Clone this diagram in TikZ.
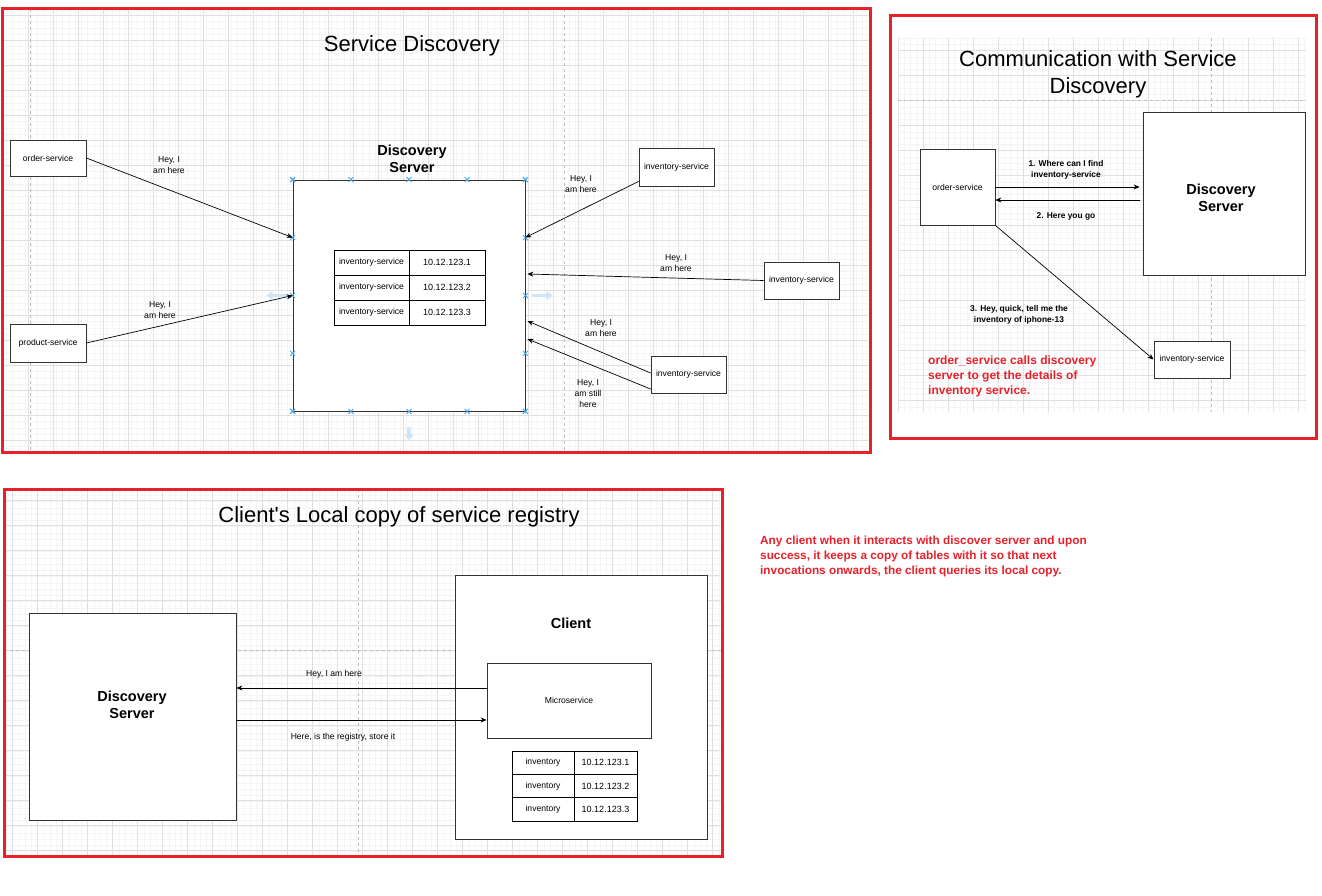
\documentclass[tikz,border=0pt]{standalone}
\usepackage{fontspec}
\setmainfont{Liberation Sans}
\newfontfamily\headFont{Liberation Sans}
\usetikzlibrary{calc}
\usetikzlibrary{positioning}
\usetikzlibrary{arrows.meta}
\usetikzlibrary{shapes.misc}
\definecolor{panelRed}{HTML}{E8202A}
\definecolor{handleBlue}{HTML}{4DA6E8}
\definecolor{hoverBlue}{HTML}{CFE6F8}
\newcommand{\edgeColor}{black!80}
\newcommand{\gridMinor}{black!4}
\newcommand{\gridMajor}{black!12}
\tikzset{panel/.style = {draw=panelRed, line width=3pt}}
\tikzset{svcbox/.style = {draw=\edgeColor, fill=white, line width=0.8pt, inner sep=0pt, font=\fontsize{8.6}{11}\selectfont}}
\tikzset{bigbox/.style = {draw=\edgeColor, fill=white, line width=0.8pt, inner sep=0pt}}
\tikzset{cell/.style = {draw=black, fill=white, line width=0.7pt, inner sep=0pt, font=\fontsize{8.6}{11}\selectfont}}
\tikzset{msg/.style = {align=center, inner sep=1pt, font=\fontsize{8.6}{11}\selectfont}}
\tikzset{boldmsg/.style = {align=center, inner sep=1pt, font=\bfseries\fontsize{8.4}{11}\selectfont}}
\tikzset{srvtitle/.style = {align=center, font=\bfseries\fontsize{14.5}{17}\selectfont}}
\tikzset{heading/.style = {align=center, font=\headFont\fontsize{22}{27}\selectfont}}
\tikzset{note/.style = {align=left, text=panelRed, inner sep=0pt, font=\bfseries\fontsize{12}{15}\selectfont}}
\tikzset{arr/.style = {black, line width=0.7pt, -{Stealth[length=6pt, width=5pt]}}}
\tikzset{handle/.style = {cross out, draw=handleBlue, line width=0.9pt, minimum size=4pt, inner sep=0pt}}
\tikzset{hoverarr/.style = {hoverBlue, line width=3.5pt, -{Triangle[length=6pt, width=9pt]}}}
\tikzset{pagebreak/.style = {black!25, dashed, line width=0.6pt}}

\begin{document}
\begin{tikzpicture}[x=1pt, y=-1pt]
\useasboundingbox (0,0) rectangle (1322,896);

% background grids of the three sheets
\begin{scope}
  \clip (3.5,10.5) rectangle (868.5,450.5);
  \foreach \gx in {0,6.25,...,870} \draw[\gridMinor, line width=0.4pt] (\gx,9) -- (\gx,452);
  \foreach \gy in {9,15.25,...,452} \draw[\gridMinor, line width=0.4pt] (2,\gy) -- (870,\gy);
  \foreach \gx in {3,28,...,870} \draw[\gridMajor, line width=0.5pt] (\gx,9) -- (\gx,452);
  \foreach \gy in {15,40,...,452} \draw[\gridMajor, line width=0.5pt] (2,\gy) -- (870,\gy);
  \draw[pagebreak] (30,9) -- (30,452);
  \draw[pagebreak] (564,9) -- (564,452);
\end{scope}
\begin{scope}
  \clip (898,38) rectangle (1306,412);
  \foreach \gx in {898,904.25,...,1306} \draw[\gridMinor, line width=0.4pt] (\gx,38) -- (\gx,412);
  \foreach \gy in {38,44.25,...,412} \draw[\gridMinor, line width=0.4pt] (898,\gy) -- (1306,\gy);
  \foreach \gx in {898,923,...,1306} \draw[\gridMajor, line width=0.5pt] (\gx,38) -- (\gx,412);
  \foreach \gy in {50,75,...,412} \draw[\gridMajor, line width=0.5pt] (898,\gy) -- (1306,\gy);
  \draw[pagebreak] (1211,38) -- (1211,412);
  \draw[pagebreak] (898,100) -- (1306,100);
\end{scope}
\begin{scope}
  \clip (5.5,490.5) rectangle (720.5,854.5);
  \foreach \gx in {0,6.25,...,722} \draw[\gridMinor, line width=0.4pt] (\gx,489) -- (\gx,856);
  \foreach \gy in {489,495.25,...,856} \draw[\gridMinor, line width=0.4pt] (4,\gy) -- (722,\gy);
  \foreach \gx in {12,37,...,722} \draw[\gridMajor, line width=0.5pt] (\gx,489) -- (\gx,856);
  \foreach \gy in {500,525,...,856} \draw[\gridMajor, line width=0.5pt] (4,\gy) -- (722,\gy);
  \draw[pagebreak] (358,489) -- (358,856);
  \draw[pagebreak] (4,650) -- (722,650);
\end{scope}

% red frames
\draw[panel] (2,9) rectangle (870,452);
\draw[panel] (890,16) rectangle (1316,438);
\draw[panel] (4,489) rectangle (722,856);

% ---------- Service Discovery ----------
\node[heading] (sdTitle) at (412,46) {Service Discovery};

\node[svcbox, minimum width=76, minimum height=36] (ordSvc) at (48,158) {order-service};
\node[svcbox, minimum width=76, minimum height=38] (prodSvc) at (48,343) {product-service};
\node[bigbox, minimum width=232, minimum height=231] (discSrv) at (409,295.5) {};
\node[srvtitle] (discTitle) at (412,159) {Discovery\\Server};

\foreach \i in {1,2,3} {
  \node[cell, minimum width=75, minimum height=25] (regKey\i) at (371.5,237.5+25*\i) {inventory-service};
  \node[cell, minimum width=76, minimum height=25, font=\fontsize{9}{11}\selectfont] (regVal\i) at (447,237.5+25*\i) {10.12.123.\i};
}

% selection handles
\foreach \t in {0,0.25,0.5,0.75,1} {
  \node[handle] at ($(discSrv.north west)!\t!(discSrv.north east)$) {};
  \node[handle] at ($(discSrv.south west)!\t!(discSrv.south east)$) {};
  \node[handle] at ($(discSrv.north west)!\t!(discSrv.south west)$) {};
  \node[handle] at ($(discSrv.north east)!\t!(discSrv.south east)$) {};
}
\draw[hoverarr] ($(discSrv.west)+(-6,0)$) -- ++(-20,0);
\draw[hoverarr] ($(discSrv.east)+(7,0)$) -- ++(20,0);
\draw[hoverarr] ($(discSrv.south)+(0,16)$) -- ++(0,13);

\node[svcbox, minimum width=75, minimum height=38] (invA) at (676.5,167) {inventory-service};
\node[svcbox, minimum width=75, minimum height=37] (invB) at (801.5,280.5) {inventory-service};
\node[svcbox, minimum width=75, minimum height=37] (invC) at (688.5,374.5) {inventory-service};

\draw[arr] (ordSvc.east) -- ($(discSrv.north west)!.25!(discSrv.south west)$);
\draw[arr] (prodSvc.east) -- (discSrv.west);
\draw[arr] ($(invA.south west)+(0,-5)$) -- ($(discSrv.north east)!.25!(discSrv.south east)$);
\draw[arr] (invB.west) -- ($(discSrv.east)+(2,-21.5)$);
\draw[arr] ($(invC.west)+(0,-1.5)$) -- ($(discSrv.east)+(2,25.5)$);
\draw[arr] ($(invC.west)+(0,14.5)$) -- ($(discSrv.east)+(2,43.5)$);

\node[msg] (hiOrd) at (169,165) {Hey, I\\am here};
\node[msg] (hiProd) at (160,310) {Hey, I\\am here};
\node[msg] (hiInvA) at (581,184) {Hey, I\\am here};
\node[msg] (hiInvB) at (676,263) {Hey, I\\am here};
\node[msg] (hiInvC) at (601,328) {Hey, I\\am here};
\node[msg] (stillInvC) at (588,394) {Hey, I\\am still\\here};

% ---------- Communication with Service Discovery ----------
\node[heading] (commTitle) at (1098,74.5) {Communication with Service\\Discovery};

\node[svcbox, minimum width=75, minimum height=76] (ordSvc2) at (957.5,187) {order-service};
\node[bigbox, minimum width=162, minimum height=163] (discSrv2) at (1224,193.5) {};
\node[srvtitle] (discTitle2) at (1221,198) {Discovery\\Server};
\node[svcbox, minimum width=76, minimum height=37] (invSvc2) at (1192,359.5) {inventory-service};

\draw[arr] (ordSvc2.east) -- ($(discSrv2.west)+(-3,-6.5)$);
\draw[arr] ($(discSrv2.west)+(-3,6.5)$) -- ($(ordSvc2.east)+(0,13)$);
\draw[arr] (ordSvc2.south east) -- (invSvc2.west);

\node[boldmsg] (askMsg) at (1066,170) {1. Where can I find\\inventory-service};
\node[boldmsg] (replyMsg) at (1066,216) {2. Here you go};
\node[boldmsg] (queryMsg) at (1019,315) {3. Hey, quick, tell me the\\inventory of iphone-13};

\node[note, anchor=north west] (commNote) at (928,356) {order\_service calls discovery\\server to get the details of\\inventory service.};

% ---------- Client's Local copy ----------
\node[heading] (localTitle) at (399,517) {Client's Local copy of service registry};

\node[bigbox, minimum width=207, minimum height=207] (discSrv3) at (132.5,716.5) {};
\node[srvtitle] (discTitle3) at (132,705) {Discovery\\Server};
\node[bigbox, minimum width=252, minimum height=264] (clientBox) at (581,707) {};
\node[srvtitle] (clientTitle) at (571,623) {Client};
\node[svcbox, minimum width=164, minimum height=75] (microSvc) at (569,700.5) {Microservice};

\foreach \i in {1,2,3} {
  \node[cell, minimum width=62, minimum height=23.3] (localKey\i) at (543,739.35+23.3*\i) {inventory};
  \node[cell, minimum width=63, minimum height=23.3, font=\fontsize{9}{11}\selectfont] (localVal\i) at (605.5,739.35+23.3*\i) {10.12.123.\i};
}

\coordinate (m1) at ($(microSvc.west)+(0,-12.5)$);
\coordinate (m2) at ($(microSvc.west)+(0,19.5)$);
\draw[arr] (m1) -- (m1 -| discSrv3.east);
\draw[arr] (m2 -| discSrv3.east) -- (m2);
\node[msg] (hiLocal) at (334,674) {Hey, I am here};
\node[msg] (regLocal) at (343,737) {Here, is the registry, store it};

\node[note, anchor=north west, font=\bfseries\fontsize{11.8}{15}\selectfont] (localNote) at (760,536) {Any client when it interacts with discover server and upon\\success, it keeps a copy of tables with it so that next\\invocations onwards, the client queries its local copy.};
\end{tikzpicture}
\end{document}
